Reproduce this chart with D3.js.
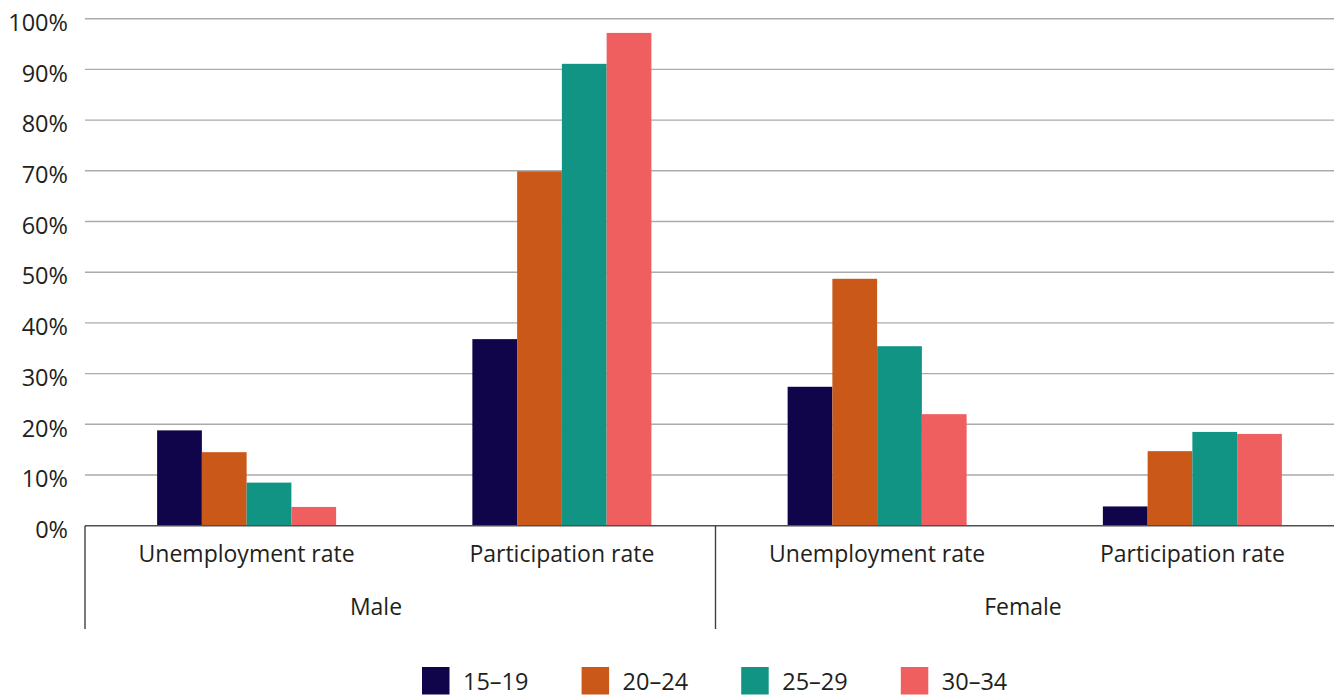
<!DOCTYPE html>
<html>
<head>
<meta charset="utf-8">
<script src="https://cdn.jsdelivr.net/npm/d3@7"></script>
<style>
  html, body { margin: 0; padding: 0; background: #fff; }
  svg { display: block; font-family: "Open Sans", "Noto Sans", sans-serif; }
</style>
</head>
<body>
<svg id="chart" width="1334" height="697"></svg>
<script>
// Labour force indicators by sex and age group
const sexes = ["Male", "Female"];
const measures = ["Unemployment rate", "Participation rate"];
const ageGroups = ["15–19", "20–24", "25–29", "30–34"];
const colors = ["#10044a", "#ca5818", "#119483", "#f05f5f"];
const yTicks = [0, 0.1, 0.2, 0.3, 0.4, 0.5, 0.6, 0.7, 0.8, 0.9, 1.0];

// one row per (sex, measure), values per age group
const maleUnemployment = [0.188, 0.145, 0.085, 0.037];
const maleParticipation = [0.368, 0.699, 0.911, 0.972];
const femaleUnemployment = [0.274, 0.487, 0.354, 0.220];
const femaleParticipation = [0.038, 0.147, 0.185, 0.181];

const rows = [
  { sex: sexes[0], measure: measures[0], values: maleUnemployment },
  { sex: sexes[0], measure: measures[1], values: maleParticipation },
  { sex: sexes[1], measure: measures[0], values: femaleUnemployment },
  { sex: sexes[1], measure: measures[1], values: femaleParticipation }
];
rows.forEach((r, i) => r.key = i);

const svg = d3.select("#chart");
const plotLeft = 85, plotRight = 1346, plotTop = 18.7, plotBottom = 525.7;
const textColor = "#231f20";

const x0 = d3.scaleBand().domain(rows.map(r => r.key)).range([plotLeft, plotRight]);
const barsWidth = 179;
const x1 = d3.scaleBand().domain(ageGroups)
  .range([(x0.bandwidth() - barsWidth) / 2 + 4, (x0.bandwidth() + barsWidth) / 2 + 4]);
const y = d3.scaleLinear().domain([0, 1]).range([plotBottom, plotTop]);

// horizontal gridlines
svg.append("g")
  .selectAll("line")
  .data(yTicks.filter(t => t > 0))
  .join("line")
  .attr("x1", plotLeft).attr("x2", 1334)
  .attr("y1", d => y(d)).attr("y2", d => y(d))
  .attr("stroke", "#ababab").attr("stroke-width", 1.4);

// y axis labels
const yAxis = svg.append("g")
  .attr("transform", `translate(${plotLeft},0)`)
  .call(d3.axisLeft(y).tickValues(yTicks).tickFormat(d3.format(".0%")).tickSize(0).tickPadding(17));
yAxis.select(".domain").remove();
yAxis.selectAll("text")
  .attr("font-size", 23.5)
  .attr("fill", textColor)
  .attr("font-family", "'Open Sans', sans-serif")
  .attr("dy", "0.5em");

// bars
const groups = svg.append("g").selectAll("g")
  .data(rows)
  .join("g")
  .attr("transform", d => `translate(${x0(d.key)},0)`);

groups.selectAll("rect")
  .data(d => d.values.map((v, i) => ({ age: ageGroups[i], value: v, color: colors[i] })))
  .join("rect")
  .attr("x", d => x1(d.age))
  .attr("width", x1.bandwidth())
  .attr("y", d => y(d.value))
  .attr("height", d => y(0) - y(d.value))
  .attr("fill", d => d.color);

// baseline
svg.append("line")
  .attr("x1", plotLeft).attr("x2", 1334)
  .attr("y1", y(0)).attr("y2", y(0))
  .attr("stroke", "#505050").attr("stroke-width", 1.6);

// category separators (left edge and between sexes)
const sepBottom = 629;
[plotLeft, x0(2)].forEach(xv => {
  svg.append("line")
    .attr("x1", xv).attr("x2", xv)
    .attr("y1", y(0)).attr("y2", sepBottom)
    .attr("stroke", "#404040").attr("stroke-width", 1.4);
});

// measure labels
svg.append("g").selectAll("text")
  .data(rows)
  .join("text")
  .attr("x", d => x0(d.key) + x0.bandwidth() / 2 + 4)
  .attr("y", 562)
  .attr("text-anchor", "middle")
  .attr("font-size", 23)
  .attr("fill", textColor)
  .text(d => d.measure);

// sex labels
const sexCenters = { "Male": 376, "Female": 1023 };
svg.append("g").selectAll("text")
  .data(sexes)
  .join("text")
  .attr("x", d => sexCenters[d])
  .attr("y", 615)
  .attr("text-anchor", "middle")
  .attr("font-size", 23)
  .attr("fill", textColor)
  .text(d => d);

// legend
const legend = svg.append("g").attr("transform", "translate(422,667)");
const item = legend.selectAll("g")
  .data(ageGroups)
  .join("g")
  .attr("transform", (d, i) => `translate(${i * 159.6},0)`);
item.append("rect")
  .attr("width", 27.5).attr("height", 27.5)
  .attr("fill", (d, i) => colors[i]);
item.append("text")
  .attr("x", 41)
  .attr("y", 23)
  .attr("font-size", 23.5)
  .attr("fill", textColor)
  .text(d => d);
</script>
</body>
</html>
